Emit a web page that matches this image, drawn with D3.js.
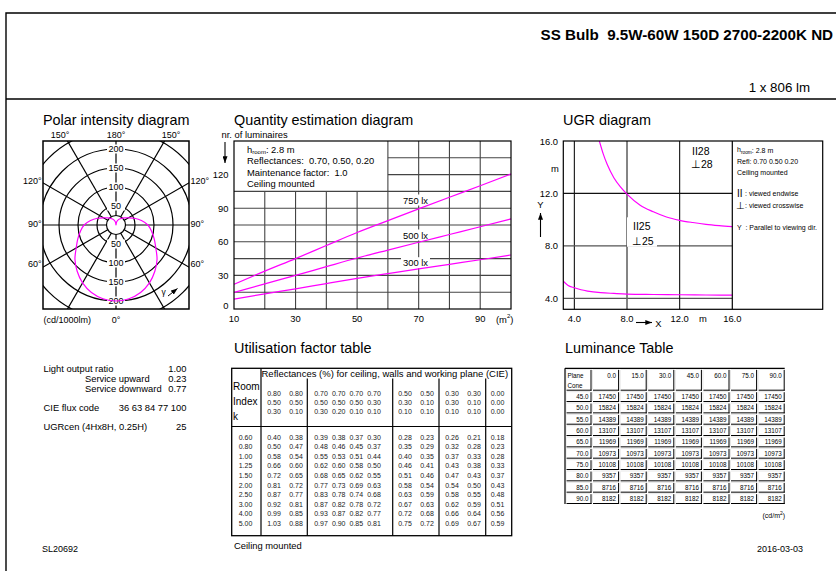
<!DOCTYPE html>
<html><head><meta charset="utf-8">
<script src="https://cdn.jsdelivr.net/npm/d3@7"></script>
<style>body{margin:0;background:#fff}svg text{font-family:"Liberation Sans",Arial,Helvetica,sans-serif}</style>
</head><body><svg id="c" width="836" height="571"></svg>
<script>
// ---------------- DATA ----------------
const polarGamma = [0,10,20,30,40,50,60,70,80,90,100,110,120,130,140,150,160,170,180];
const polarIntensity = [200,197,189,176,159,141,121,107,95,84,68,52,38,29,23,18,13,7,0];
const polarRings = [25,50,100,150,200,250];
const polarRingLabels = [50,100,150,200];
const polarSpokes = [0,30,60,90,120,150];

const areaM2 = [10,20,30,40,50,60,70,80,90,100];
const lum300 = [8.8,13.5,18,22.7,27.3,31.6,35.8,39.9,44,48.2];
const lum500 = [14.7,22.5,30,37.8,45.5,52.6,59.6,66.5,73.4,80.4];
const lum750 = [22,33.8,45,56.7,68.3,78.9,89.4,99.8,110,120.6];
const areaTicks = [10,30,50,70,90];
const countTicks = [0,30,60,90,120];

const ugr28X = [5.9,6.2,6.5,7,7.5,8,9,10,11,12,13,14,15,16];
const ugr28Y = [16,15,14.2,13.2,12.5,11.95,11.1,10.6,10.2,9.95,9.78,9.64,9.54,9.46];
const ugr25X = [3.16,3.5,4,4.5,5,6,7,8,10,12,14,16];
const ugr25Y = [5.31,5.0,4.8,4.65,4.55,4.43,4.37,4.32,4.29,4.27,4.25,4.24];
const ugrTicks = [4,8,12,16];

const roomIndex = ["0.60","0.80","1.00","1.25","1.50","2.00","2.50","3.00","4.00","5.00"];
const reflCeiling = ["0.80","0.80","0.70","0.70","0.70","0.70","0.50","0.50","0.30","0.30","0.00"];
const reflWalls   = ["0.50","0.50","0.50","0.50","0.50","0.30","0.30","0.10","0.30","0.10","0.00"];
const reflPlane   = ["0.30","0.10","0.30","0.20","0.10","0.10","0.10","0.10","0.10","0.10","0.00"];
const ufColumns = [
 ["0.40","0.50","0.58","0.66","0.72","0.81","0.87","0.92","0.99","1.03"],
 ["0.38","0.47","0.54","0.60","0.65","0.72","0.77","0.81","0.85","0.88"],
 ["0.39","0.48","0.55","0.62","0.68","0.77","0.83","0.87","0.93","0.97"],
 ["0.38","0.46","0.53","0.60","0.65","0.73","0.78","0.82","0.87","0.90"],
 ["0.37","0.45","0.51","0.58","0.62","0.69","0.74","0.78","0.82","0.85"],
 ["0.30","0.37","0.44","0.50","0.55","0.63","0.68","0.72","0.77","0.81"],
 ["0.28","0.35","0.40","0.46","0.51","0.58","0.63","0.67","0.72","0.75"],
 ["0.23","0.29","0.35","0.41","0.46","0.54","0.59","0.63","0.68","0.72"],
 ["0.26","0.32","0.37","0.43","0.47","0.54","0.58","0.62","0.66","0.69"],
 ["0.21","0.28","0.33","0.38","0.43","0.50","0.55","0.59","0.64","0.67"],
 ["0.18","0.23","0.28","0.33","0.37","0.43","0.48","0.51","0.56","0.59"]
];

const lumPlanes = ["0.0","15.0","30.0","45.0","60.0","75.0","90.0"];
const lumCones = ["45.0","50.0","55.0","60.0","65.0","70.0","75.0","80.0","85.0","90.0"];
const lumValues = [17450,15824,14389,13107,11969,10973,10108,9357,8716,8182];

// ---------------- HELPERS ----------------
const svg = d3.select("#c");
const MAG = "#ff00ff";
function T(g,x,y,s,o={}){
  const t=g.append("text").attr("x",x).attr("y",y).attr("font-size",o.size||9)
    .attr("fill",o.fill||"#000").attr("dominant-baseline","central").text(s);
  if(o.anchor) t.attr("text-anchor",o.anchor);
  if(o.weight) t.attr("font-weight",o.weight);
  if(o.pre) t.style("white-space","pre");
  return t;
}
function L(g,x1,y1,x2,y2,c="#000",w=1){
  return g.append("line").attr("x1",x1).attr("y1",y1).attr("x2",x2).attr("y2",y2).attr("stroke",c).attr("stroke-width",w);
}
const defs = svg.append("defs");
defs.append("marker").attr("id","arr").attr("viewBox","0 0 8 6").attr("refX",8).attr("refY",3)
  .attr("markerWidth",7).attr("markerHeight",5).attr("markerUnits","userSpaceOnUse").attr("orient","auto")
  .append("path").attr("d","M0,0L8,3L0,6Z").attr("fill","#000");

// ---------------- FRAME / HEADER ----------------
svg.append("path").attr("d","M6,571V13H836").attr("fill","none").attr("stroke","#000").attr("stroke-width",1.4);
L(svg,6,99,836,99,"#000",1.4);
T(svg,540.5,34,"SS Bulb  9.5W-60W 150D 2700-2200K ND",{size:15.2,weight:"bold",pre:true});
T(svg,810,87,"1 x 806 lm",{size:13.3,anchor:"end"});
T(svg,42,549,"SL20692",{size:9});
T(svg,803,549,"2016-03-03",{size:9,anchor:"end"});

// ---------------- POLAR ----------------
const pg = svg.append("g");
T(pg,43,120,"Polar intensity diagram",{size:14.4});
const pc={x:116,y:225}, pb={x0:43,y0:141,x1:189,y1:309};
const rS = d3.scaleLinear().domain([0,200]).range([0,76]);
defs.append("clipPath").attr("id","pclip").append("rect").attr("x",pb.x0).attr("y",pb.y0).attr("width",pb.x1-pb.x0).attr("height",pb.y1-pb.y0);
const pin = pg.append("g").attr("clip-path","url(#pclip)");
pin.selectAll("circle.ring").data(polarRings).join("circle").attr("class","ring")
  .attr("cx",pc.x).attr("cy",pc.y).attr("r",d=>rS(d)).attr("fill","none").attr("stroke","#000").attr("stroke-width",1.2);
polarSpokes.forEach(a=>{
  const rad=a*Math.PI/180, r0=rS(25), r1=rS(400);
  [1,-1].forEach(s=>{
    L(pin,pc.x+s*r0*Math.sin(rad),pc.y-s*r0*Math.cos(rad),pc.x+s*r1*Math.sin(rad),pc.y-s*r1*Math.cos(rad),"#000",1.2);
  });
});
polarRingLabels.forEach(v=>{
  [-1,1].forEach(s=>{
    const y=pc.y+s*rS(v);
    pin.append("rect").attr("x",pc.x-9).attr("y",y-4.5).attr("width",18).attr("height",9).attr("fill","#fff");
    T(pin,pc.x,y,String(v),{size:9,anchor:"middle"});
  });
});
const ptsR = polarGamma.map((g,i)=>[Math.PI-g*Math.PI/180, rS(polarIntensity[i])]);
const ptsL = polarGamma.slice(1,-1).reverse().map(g=>{
  const idx=polarGamma.indexOf(g); return [Math.PI+g*Math.PI/180, rS(polarIntensity[idx])];});
const radial = d3.lineRadial().angle(d=>d[0]).radius(d=>d[1]).curve(d3.curveCatmullRomClosed);
pin.append("path").attr("transform",`translate(${pc.x},${pc.y})`).attr("d",radial(ptsR.concat(ptsL)))
  .attr("fill","none").attr("stroke",MAG).attr("stroke-width",1.2);
pg.append("rect").attr("x",pb.x0).attr("y",pb.y0).attr("width",pb.x1-pb.x0).attr("height",pb.y1-pb.y0)
  .attr("fill","none").attr("stroke","#000").attr("stroke-width",1.5);
T(pg,60,135,"150°",{size:9,anchor:"middle"});
T(pg,116,135,"180°",{size:9,anchor:"middle"});
T(pg,171,135,"150°",{size:9,anchor:"middle"});
[["120°",181],["90°",224],["60°",263.5]].forEach(([s,y])=>{
  T(pg,41.5,y,s,{size:9,anchor:"end"});
  T(pg,190.5,y,s,{size:9});
});
T(pg,43.5,320,"(cd/1000lm)",{size:9});
T(pg,116,320,"0°",{size:9,anchor:"middle"});
T(pg,163.5,291.5,"γ",{size:8.5,anchor:"middle"});
pg.append("line").attr("x1",168).attr("y1",296).attr("x2",177.5).attr("y2",288.5).attr("stroke","#000").attr("stroke-width",1).attr("marker-end","url(#arr)");

// ---------------- QUANTITY ESTIMATION ----------------
const qg = svg.append("g");
T(qg,234,120,"Quantity estimation diagram",{size:14.4});
const xQ = d3.scaleLinear().domain([10,100]).range([234,511]);
const yQ = d3.scaleLinear().domain([0,150]).range([309,141]);
const gridC="#444";
d3.range(20,100,10).forEach(v=>{ L(qg,xQ(v),yQ(0),xQ(v),yQ(v<60?105:150),gridC,1.1); });
d3.range(15,150,15).forEach(v=>{ L(qg,xQ(v>105?60:10),yQ(v),xQ(100),yQ(v),gridC,1.1); });
const qLabels=[["750 lx",200],["500 lx",235],["300 lx",262.7]];
qLabels.forEach(([s,y])=>{ qg.append("rect").attr("x",401).attr("y",y-5.5).attr("width",29).attr("height",11).attr("fill","#fff"); });
const qline = d3.line().x((d,i)=>xQ(areaM2[i])).y(d=>yQ(d)).curve(d3.curveMonotoneX);
[lum750,lum500,lum300].forEach(s=>{
  qg.append("path").attr("d",qline(s)).attr("fill","none").attr("stroke",MAG).attr("stroke-width",1.2);
});
qLabels.forEach(([s,y])=>T(qg,415.5,y,s,{size:9.4,anchor:"middle"}));
qg.append("rect").attr("x",xQ(10)).attr("y",yQ(150)).attr("width",xQ(100)-xQ(10)).attr("height",yQ(0)-yQ(150))
  .attr("fill","none").attr("stroke","#000").attr("stroke-width",1.2);
const h1=T(qg,247,149,"h",{size:9.4});
h1.append("tspan").attr("font-size",6).attr("dy",2.5).text("room");
h1.append("tspan").attr("dy",-2.5).text(": 2.8 m");
T(qg,247,160.5,"Reflectances:  0.70, 0.50, 0.20",{size:9.4,pre:true});
T(qg,247,172,"Maintenance factor:  1.0",{size:9.4,pre:true});
T(qg,247,183.5,"Ceiling mounted",{size:9.4});
countTicks.forEach(v=>T(qg,228.5,Math.min(yQ(v),305),String(v),{size:9.4,anchor:"end"}));
areaTicks.forEach(v=>T(qg,xQ(v),318.5,String(v),{size:9.4,anchor:"middle"}));
const m2=T(qg,496,319,"(m",{size:9.4});
m2.append("tspan").attr("font-size",6).attr("dy",-3.5).text("2");
m2.append("tspan").attr("dy",3.5).text(")");
T(qg,221.5,134,"nr. of luminaires",{size:9.4});
qg.append("line").attr("x1",225).attr("y1",142).attr("x2",225).attr("y2",163).attr("stroke","#000").attr("stroke-width",1.1).attr("marker-end","url(#arr)");

// ---------------- UGR ----------------
const ug = svg.append("g");
T(ug,563,120,"UGR diagram",{size:14.4});
const xU = d3.scaleLinear().domain([3.16,16]).range([563.3,732.3]);
const yU = d3.scaleLinear().domain([3.16,16]).range([309.3,141]);
[4,8,12].forEach(v=>{
  L(ug,xU(v),yU(3.16),xU(v),yU(16),v===8?"#666":"#111",v===8?1.6:1.1);
  L(ug,xU(3.16),yU(v),xU(16),yU(v),v===4||v===8?"#555":"#111",1.2);
});
ug.append("rect").attr("x",xU(8)).attr("y",217.3).attr("width",30).attr("height",29.5).attr("fill","#fff");
defs.append("clipPath").attr("id","uclip").append("rect").attr("x",xU(3.16)).attr("y",yU(16)).attr("width",xU(16)-xU(3.16)).attr("height",yU(3.16)-yU(16));
const uline = d3.line().x(d=>xU(d[0])).y(d=>yU(d[1])).curve(d3.curveMonotoneX);
const uin = ug.append("g").attr("clip-path","url(#uclip)");
uin.append("path").attr("d",uline(ugr28X.map((x,i)=>[x,ugr28Y[i]]))).attr("fill","none").attr("stroke",MAG).attr("stroke-width",1.2);
uin.append("path").attr("d",uline(ugr25X.map((x,i)=>[x,ugr25Y[i]]))).attr("fill","none").attr("stroke",MAG).attr("stroke-width",1.2);
ug.append("rect").attr("x",563.3).attr("y",141).attr("width",822.7-563.3).attr("height",168.3).attr("fill","none").attr("stroke","#000").attr("stroke-width",1.2);
L(ug,732.3,141,732.3,309.3,"#000",1.2);
T(ug,633,226,"II25",{size:10.5});
T(ug,632,240.5,"⊥25",{size:10.5});
T(ug,692,150.5,"II28",{size:10.5});
T(ug,691,164,"⊥28",{size:10.5});
ugrTicks.forEach(v=>{
  T(ug,558,yU(v),v.toFixed(1),{size:9.4,anchor:"end"});
  T(ug,xU(v),318.5,v.toFixed(1),{size:9.4,anchor:"middle"});
});
T(ug,555,168.5,"m",{size:9.4,anchor:"middle"});
T(ug,703,318.5,"m",{size:9.4,anchor:"middle"});
T(ug,540.5,204,"Y",{size:9.4,anchor:"middle"});
ug.append("line").attr("x1",540.5).attr("y1",237).attr("x2",540.5).attr("y2",213).attr("stroke","#000").attr("stroke-width",1.1).attr("marker-end","url(#arr)");
ug.append("line").attr("x1",636).attr("y1",322.5).attr("x2",652).attr("y2",322.5).attr("stroke","#000").attr("stroke-width",1.1).attr("marker-end","url(#arr)");
T(ug,658.5,323,"X",{size:9.4,anchor:"middle"});
const u1=T(ug,737,149.5,"h",{size:7});
u1.append("tspan").attr("font-size",4.8).attr("dy",2).text("room");
u1.append("tspan").attr("dy",-2).text(": 2.8 m");
T(ug,737,161.5,"Refl: 0.70 0.50 0.20",{size:7});
T(ug,737,172.5,"Ceiling mounted",{size:7});
T(ug,737,193.5,"II",{size:10});
T(ug,745,193.5,": viewed endwise",{size:7});
T(ug,736,205,"⊥",{size:10});
T(ug,745,205,": viewed crosswise",{size:7});
T(ug,737,227,"Y  : Parallel to viewing dir.",{size:7,pre:true});

// ---------------- LEFT INFO ----------------
const ig = svg.append("g");
T(ig,43.5,368.5,"Light output ratio",{size:9.4});
T(ig,186.5,368.5,"1.00",{size:9.4,anchor:"end"});
T(ig,85,378.5,"Service upward",{size:9.4});
T(ig,186.5,378.5,"0.23",{size:9.4,anchor:"end"});
T(ig,85,388.5,"Service downward",{size:9.4});
T(ig,186.5,388.5,"0.77",{size:9.4,anchor:"end"});
T(ig,43.5,407.5,"CIE flux code",{size:9.4});
T(ig,186.5,407.5,"36 63 84 77 100",{size:9.4,anchor:"end"});
T(ig,43.5,426,"UGRcen (4Hx8H, 0.25H)",{size:9.4});
T(ig,186.5,426,"25",{size:9.4,anchor:"end"});

// ---------------- UTILISATION TABLE ----------------
const tg = svg.append("g");
T(tg,234,348,"Utilisation factor table",{size:14.4});
const tb={x0:231.7,y0:368.3,x1:511.7,y1:535.7};
tg.append("rect").attr("x",tb.x0).attr("y",tb.y0).attr("width",tb.x1-tb.x0).attr("height",tb.y1-tb.y0).attr("fill","none").attr("stroke","#000").attr("stroke-width",1.3);
L(tg,261,tb.y0,261,tb.y1,"#000",1.2);
[307.3,392.7,439,485.7].forEach(x=>L(tg,x,378.5,x,tb.y1,"#000",1.2));
L(tg,tb.x0,426.5,tb.x1,426.5,"#000",1.1);
T(tg,261.5,373.5,"Reflectances (%) for ceiling, walls and working plane (CIE)",{size:9.5});
T(tg,233,386.5,"Room",{size:10});
T(tg,233,401,"Index",{size:10});
T(tg,233,416.5,"k",{size:10});
const colX=[274,296,321,338.7,356.3,374,405,427,452,474,497.5];
[reflCeiling,reflWalls,reflPlane].forEach((row,ri)=>{
  row.forEach((v,ci)=>T(tg,colX[ci],393.3+ri*9.2,v,{size:7,anchor:"middle",fill:"#222"}));
});
roomIndex.forEach((k,ri)=>T(tg,245.5,437.3+ri*9.56,k,{size:7,anchor:"middle",fill:"#222"}));
ufColumns.forEach((col,ci)=>col.forEach((v,ri)=>T(tg,colX[ci],437.3+ri*9.56,v,{size:7,anchor:"middle",fill:"#222"})));
T(tg,234,545.5,"Ceiling mounted",{size:9.4});

// ---------------- LUMINANCE TABLE ----------------
const lg = svg.append("g");
T(lg,565,348,"Luminance Table",{size:14.4});
const lx0=565, ly0=368.3, c0w=26.5, cw=27.6, hh=22.4, rh=11.33;
const colLeft = i => i===0?lx0:lx0+c0w+(i-1)*cw;
const colW = i => i===0?c0w:cw;
const rowTop = r => r===0?ly0:ly0+hh+(r-1)*rh;
const rowH = r => r===0?hh:rh;
for(let r=0;r<=lumCones.length;r++){
  for(let c=0;c<=lumPlanes.length;c++){
    const x=colLeft(c), y=rowTop(r), w=colW(c), h=rowH(r);
    L(lg,x+w-0.5,y+1.5,x+w-0.5,y+h,"#000",1);
    L(lg,x+1.5,y+h-0.5,x+w,y+h-0.5,"#000",1);
    L(lg,x+1.5,y+1,x+w-1.5,y+1,"#ccc",0.5);
    L(lg,x+1,y+1.5,x+1,y+h-1.5,"#ccc",0.5);
  }
}
L(lg,lx0,ly0,lx0+c0w+7*cw,ly0,"#000",1.2);
L(lg,lx0,ly0,lx0,rowTop(10)+rh,"#000",1.2);
T(lg,567.5,375.5,"Plane",{size:6.3});
T(lg,567.5,385,"Cone",{size:6.3});
lumPlanes.forEach((p,i)=>T(lg,colLeft(i+1)+cw-3,375.5,p,{size:6.3,anchor:"end"}));
lumCones.forEach((c,r)=>{
  const yc=rowTop(r+1)+rh/2;
  T(lg,lx0+c0w-3,yc,c,{size:6.3,anchor:"end"});
  lumPlanes.forEach((p,i)=>T(lg,colLeft(i+1)+cw-3,yc,String(lumValues[r]),{size:6.3,anchor:"end"}));
});
const cd=T(lg,762.5,515,"(cd/m",{size:7});
cd.append("tspan").attr("font-size",5).attr("dy",-2.5).text("2");
cd.append("tspan").attr("dy",2.5).text(")");
</script></body></html>
